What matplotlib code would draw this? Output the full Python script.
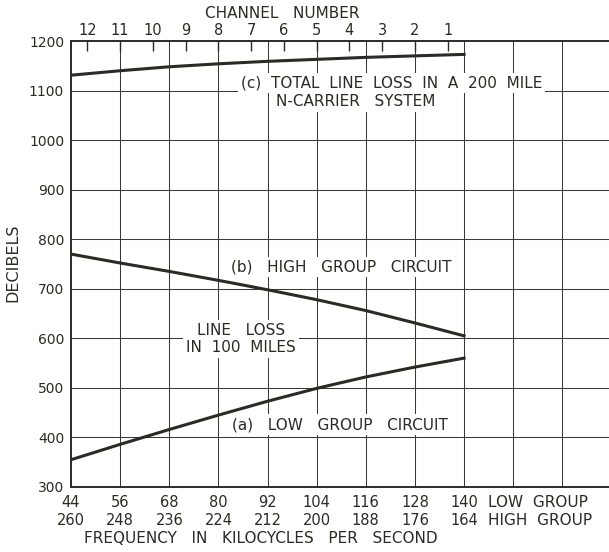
import numpy as np
import matplotlib.pyplot as plt

# frequency axis (kc), low group / high group labels
freq_low = [44, 56, 68, 80, 92, 104, 116, 128, 140]
freq_high = [260, 248, 236, 224, 212, 200, 188, 176, 164]
grid_x = [56, 68, 80, 92, 104, 116, 128, 140, 152, 164]

# channel numbers along the top
channels = [12, 11, 10, 9, 8, 7, 6, 5, 4, 3, 2, 1]
channel_kc = [48, 56, 64, 72, 80, 88, 96, 104, 112, 120, 128, 136]

# line losses (db) read at the frequency ticks
loss_a = [355, 386, 416, 445, 473, 499, 522, 542, 560]   # low group, 100 mi
loss_b = [770, 752, 735, 717, 698, 678, 656, 631, 605]   # high group, 100 mi
loss_c = [1131, 1140, 1148, 1154, 1159, 1163, 1167, 1170, 1173]  # total, 200 mi

ink = '#2b2b24'
plt.rcParams['font.family'] = 'DejaVu Sans'

fig = plt.figure(figsize=(6.09, 5.52), dpi=100)
ax = fig.add_axes([0.1166, 0.1178, 1 - 0.1166, 0.9257 - 0.1178])
ax.set_xlim(44, 175.4)
ax.set_ylim(300, 1200)

for x in grid_x:
    ax.axvline(x, color='#3a3a33', lw=0.75, zorder=1)
for y in range(400, 1200, 100):
    ax.axhline(y, color='#3a3a33', lw=0.75, zorder=1)

for s in ['left', 'bottom', 'top']:
    ax.spines[s].set_color(ink)
    ax.spines[s].set_linewidth(1.4)
ax.spines['right'].set_visible(False)

for ys in (loss_a, loss_b, loss_c):
    ax.plot(freq_low, ys, color=ink, lw=2.2, zorder=3)

ax.set_yticks(range(300, 1300, 100))
ax.tick_params(axis='y', length=0, pad=5, labelsize=10, labelcolor=ink)
ax.set_xticks([])

trans = ax.get_xaxis_transform()
for lo, hi in zip(freq_low, freq_high):
    ax.text(lo, -0.035, str(lo), transform=trans, ha='center', va='center',
            fontsize=10.5, color=ink)
    ax.text(lo, -0.075, str(hi), transform=trans, ha='center', va='center',
            fontsize=10.5, color=ink)
ax.text(145.9, -0.035, 'LOW  GROUP', transform=trans, ha='left', va='center',
        fontsize=11, color=ink)
ax.text(145.9, -0.075, 'HIGH  GROUP', transform=trans, ha='left', va='center',
        fontsize=11, color=ink)
ax.text(90.4, -0.116, 'FREQUENCY   IN   KILOCYCLES   PER   SECOND',
        transform=trans, ha='center', va='center', fontsize=11, color=ink)

fig.text(0.021, 0.5236, 'DECIBELS', rotation=90, ha='center', va='center',
         fontsize=11.5, color=ink)

top = ax.twiny()
top.set_xlim(ax.get_xlim())
top.set_xticks(channel_kc)
top.set_xticklabels([str(c) for c in channels])
top.tick_params(axis='x', direction='in', length=7, width=1, color=ink,
                pad=2, labelsize=10.5, labelcolor=ink)
for s in top.spines.values():
    s.set_visible(False)
fig.text(282 / 609, 1 - 13 / 552, 'CHANNEL   NUMBER', ha='center', va='center',
         fontsize=11, color=ink)

box = dict(facecolor='white', edgecolor='none', pad=2)
kw = dict(ha='center', va='center', fontsize=11, color=ink, bbox=box, zorder=2)
ax.text(122.3, 1115, '(c)  TOTAL  LINE  LOSS  IN  A  200  MILE', **kw)
ax.text(113.6, 1077, 'N-CARRIER   SYSTEM', **kw)
ax.text(110.0, 744, '(b)   HIGH   GROUP   CIRCUIT', **kw)
ax.text(85.5, 599, 'LINE   LOSS\nIN  100  MILES', linespacing=1.2, **kw)
ax.text(109.6, 426, '(a)   LOW   GROUP   CIRCUIT', **kw)

fig.savefig('out.png', dpi=100)
